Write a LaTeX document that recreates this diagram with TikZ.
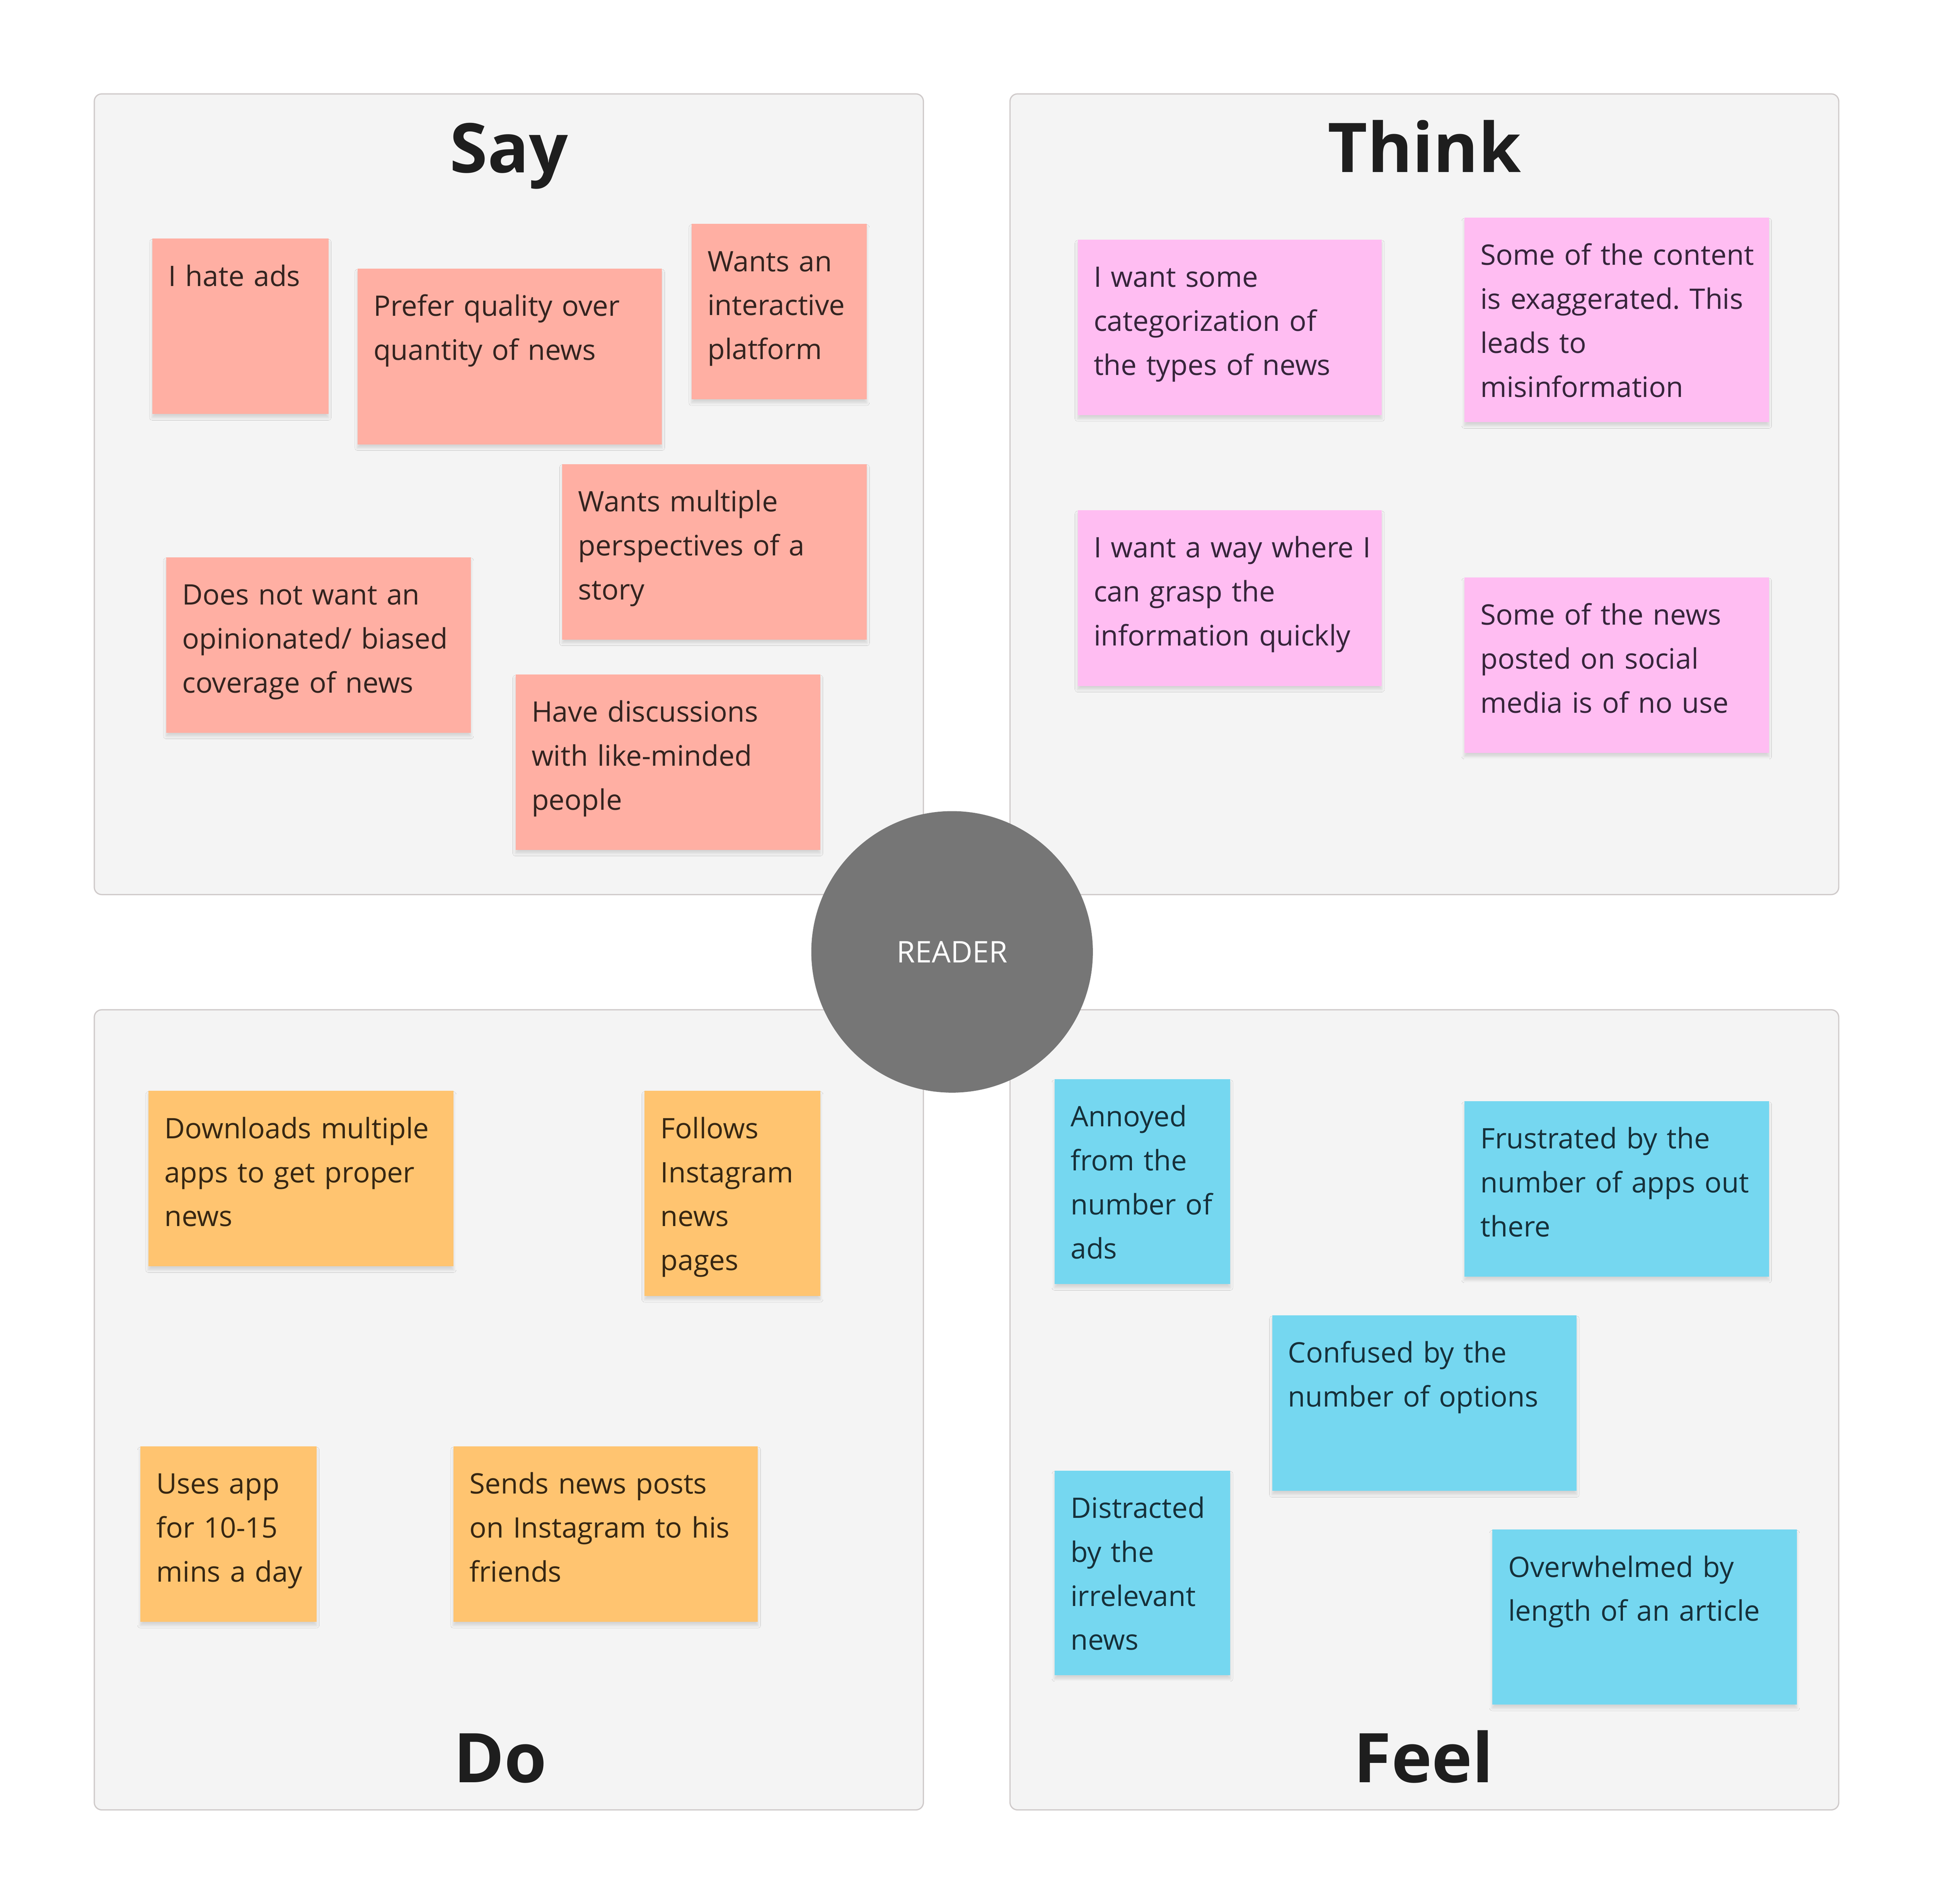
\documentclass[tikz,border=0pt]{standalone}
\usepackage{fontspec}
\setmainfont{Open Sans}
\usetikzlibrary{shadows.blur}
\frenchspacing
\definecolor{quadfill}{HTML}{F4F4F4}
\definecolor{quadline}{HTML}{CFCACA}
\definecolor{sayc}{HTML}{FFAFA3}
\definecolor{thinkc}{HTML}{FFBDF2}
\definecolor{doc}{HTML}{FFC470}
\definecolor{feelc}{HTML}{75D7F0}
\definecolor{sayt}{HTML}{33231F}
\definecolor{thinkt}{HTML}{36243A}
\definecolor{dot}{HTML}{362612}
\definecolor{feelt}{HTML}{16303A}
\definecolor{readerc}{HTML}{767676}
\definecolor{headc}{HTML}{1E1E1E}
\tikzset{
  quadbox/.style={draw=quadline, fill=quadfill, line width=0.5pt, rounded corners=3pt, anchor=north west, inner sep=0pt, outer sep=0pt},
  notebox/.style={anchor=north west, inner sep=0pt, outer sep=0pt, draw=none,
    blur shadow={shadow xshift=0pt, shadow yshift=-1.4pt, shadow blur radius=1.1pt, shadow opacity=13, shadow blur steps=6}},
  notetext/.style={anchor=base west, inner sep=0pt, outer sep=0pt, align=left, text width=150pt,
    font=\fontsize{11.45pt}{17.85pt}\selectfont},
  heading/.style={anchor=base, inner sep=0pt, text=headc, font=\fontsize{27.8pt}{34pt}\selectfont\bfseries},
  readerdot/.style={circle, fill=readerc, draw=none, inner sep=0pt, minimum size=228.4*0.5pt,
    text=white, font=\fontsize{12.1pt}{14pt}\selectfont}
}
\newcommand\stickynote[8]{%
  \node[notebox, fill=#6, minimum width={(#4-#2)*0.5pt}, minimum height={(#5-#3)*0.5pt}] (#1) at (#2,#3) {};
  \node[notetext, text=#7] (#1-text) at (#2+13,#3+38.5) {#8};
}
\newcommand\quadrant[5]{%
  \node[quadbox, minimum width={(#4-#2)*0.5pt}, minimum height={(#5-#3)*0.5pt}] (#1) at (#2,#3) {};
}
\begin{document}
\begin{tikzpicture}[x=0.5pt,y=-0.5pt]
\useasboundingbox[fill=white] (0,0) rectangle (1568,1544.8);
% quadrants
\quadrant{say}{76.5}{76.2}{749}{725.8}
\quadrant{think}{819.3}{76.2}{1491.5}{725.8}
\quadrant{do}{76.5}{819.3}{749}{1468.4}
\quadrant{feel}{819.3}{819.3}{1491.5}{1468.4}
% headings
\node[heading] (sayh) at (412.8,140.1) {Say};
\node[heading] (thinkh) at (1155.4,139.6) {Think};
\node[heading] (doh) at (405.7,1446.2) {Do};
\node[heading] (feelh) at (1154.7,1446.2) {Feel};
% Say
\stickynote{s1}{123.5}{193.6}{266.4}{336}{sayc}{sayt}{I hate ads}
\stickynote{s2}{290}{218}{537}{360.5}{sayc}{sayt}{Prefer quality over\\quantity of news}
\stickynote{s3}{561}{181.7}{703}{324}{sayc}{sayt}{Wants an\\interactive\\platform}
\stickynote{s4}{456.1}{376.5}{703.2}{518.9}{sayc}{sayt}{Wants multiple\\perspectives of a\\story}
\stickynote{s5}{134.8}{452.1}{381.9}{594.5}{sayc}{sayt}{Does not want an\\opinionated/ biased\\coverage of news}
\stickynote{s6}{418.2}{547.2}{665.3}{689.5}{sayc}{sayt}{Have discussions\\with like-minded\\people}
% Think
\stickynote{t1}{874.2}{194.4}{1120.8}{336.9}{thinkc}{thinkt}{I want some\\categorization of\\the types of news}
\stickynote{t2}{1187.9}{176.6}{1434.9}{342.6}{thinkc}{thinkt}{Some of the content\\is exaggerated. This\\leads to\\misinformation}
\stickynote{t3}{874.2}{414}{1120.8}{556.5}{thinkc}{thinkt}{I want a way where I\\can grasp the\\information quickly}
\stickynote{t4}{1187.9}{468.5}{1434.9}{610.9}{thinkc}{thinkt}{Some of the news\\posted on social\\media is of no use}
% Do
\stickynote{d1}{120.4}{885.1}{367.8}{1027.5}{doc}{dot}{Downloads multiple\\apps to get proper\\news}
\stickynote{d2}{522.9}{885.1}{665.4}{1051.5}{doc}{dot}{Follows\\Instagram\\news\\pages}
\stickynote{d3}{113.9}{1173.5}{256.7}{1315.9}{doc}{dot}{Uses app\\for 10-15\\mins a day}
\stickynote{d4}{367.8}{1173.5}{614.8}{1315.9}{doc}{dot}{Sends news posts\\on Instagram to his\\friends}
% Feel
\stickynote{f1}{855.5}{875.5}{997.9}{1041.9}{feelc}{feelt}{Annoyed\\from the\\number of\\ads}
\stickynote{f2}{1187.9}{893.4}{1434.9}{1035.8}{feelc}{feelt}{Frustrated by the\\number of apps out\\there}
\stickynote{f3}{1031.9}{1067.2}{1278.9}{1209.7}{feelc}{feelt}{Confused by the\\number of options}
\stickynote{f4}{855.5}{1193.1}{997.9}{1359.1}{feelc}{feelt}{Distracted\\by the\\irrelevant\\news}
\stickynote{f5}{1210.5}{1241}{1457.5}{1383}{feelc}{feelt}{Overwhelmed by\\length of an article}
% center
\node[readerdot] (reader) at (772.3,772.3) {READER};
\end{tikzpicture}
\end{document}
